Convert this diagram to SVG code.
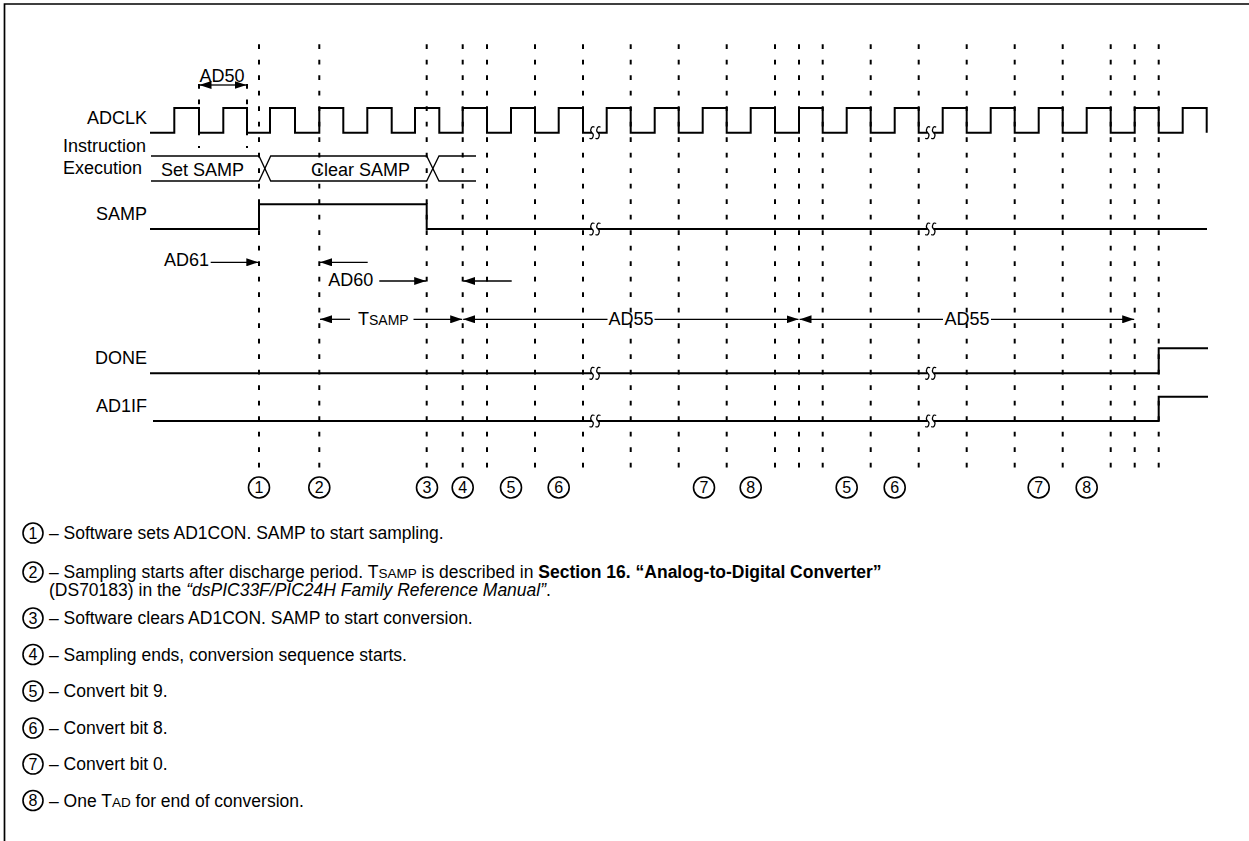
<svg xmlns="http://www.w3.org/2000/svg" width="1249" height="841" viewBox="0 0 1249 841">
<style>
text{font-family:"Liberation Sans",Arial,sans-serif;fill:#000}
.lbl{font-size:18px}
.end{text-anchor:end}
.mid{text-anchor:middle}
.sig{fill:none;stroke:#000;stroke-width:2}
.bus{fill:none;stroke:#000;stroke-width:1.3}
.grid{stroke:#000;stroke-width:2;stroke-dasharray:4.7 10.8}
.arr{stroke:#000;stroke-width:1.3;fill:none;marker-end:url(#ah)}
.brk{fill:none;stroke:#000;stroke-width:1.2}
.cn circle{fill:#fff;stroke:#000;stroke-width:1.6}
.cn text{font-size:16px;text-anchor:middle}
.note{font-size:17.5px}
</style>
<defs>
<marker id="ah" viewBox="0 0 12 8" refX="12" refY="4" markerWidth="12" markerHeight="8" markerUnits="userSpaceOnUse" orient="auto-start-reverse"><path d="M0,0 L12,4 L0,8 z" fill="#000"/></marker>
<g id="brk"><rect x="-3" y="-2.5" width="6" height="5" fill="#fff"/><path class="brk" d="M-0.5,-5.5 Q-3,-7 -4,-4 Q-5,-1.5 -3,0 Q-1,1.5 -2,4 Q-3,7 -5.5,5.5"/><path class="brk" d="M5.5,-5.5 Q3,-7 2,-4 Q1,-1.5 3,0 Q5,1.5 4,4 Q3,7 0.5,5.5"/></g>
</defs>
<g id="frame"><path d="M4.5,841 V4 H1249" fill="none" stroke="#000" stroke-width="1.7"/></g>
<g id="grid">
<line class="grid" x1="259" y1="44.3" x2="259" y2="468"/>
<line class="grid" x1="319.3" y1="44.3" x2="319.3" y2="468"/>
<line class="grid" x1="426.7" y1="44.3" x2="426.7" y2="468"/>
<line class="grid" x1="462.7" y1="44.3" x2="462.7" y2="468"/>
<line class="grid" x1="487" y1="44.3" x2="487" y2="468"/>
<line class="grid" x1="535" y1="44.3" x2="535" y2="468"/>
<line class="grid" x1="583" y1="44.3" x2="583" y2="468"/>
<line class="grid" x1="630.7" y1="44.3" x2="630.7" y2="468"/>
<line class="grid" x1="678.7" y1="44.3" x2="678.7" y2="468"/>
<line class="grid" x1="726.7" y1="44.3" x2="726.7" y2="468"/>
<line class="grid" x1="775" y1="44.3" x2="775" y2="468"/>
<line class="grid" x1="799" y1="44.3" x2="799" y2="468"/>
<line class="grid" x1="822.7" y1="44.3" x2="822.7" y2="468"/>
<line class="grid" x1="870.7" y1="44.3" x2="870.7" y2="468"/>
<line class="grid" x1="918.7" y1="44.3" x2="918.7" y2="468"/>
<line class="grid" x1="966.7" y1="44.3" x2="966.7" y2="468"/>
<line class="grid" x1="1014.7" y1="44.3" x2="1014.7" y2="468"/>
<line class="grid" x1="1062.7" y1="44.3" x2="1062.7" y2="468"/>
<line class="grid" x1="1110.7" y1="44.3" x2="1110.7" y2="468"/>
<line class="grid" x1="1134.7" y1="44.3" x2="1134.7" y2="468"/>
<line class="grid" x1="1158.7" y1="44.3" x2="1158.7" y2="468"/>
<line class="grid" x1="199" y1="84" x2="199" y2="148"/>
<line class="grid" x1="247" y1="84" x2="247" y2="148"/>
</g>
<g id="labels">
<text class="lbl end" x="147" y="124">ADCLK</text>
<text class="lbl" x="63" y="152">Instruction</text>
<text class="lbl" x="63" y="173.5">Execution</text>
<text class="lbl end" x="147" y="220">SAMP</text>
<text class="lbl end" x="147" y="364">DONE</text>
<text class="lbl end" x="147" y="412.3">AD1IF</text>
</g>
<g id="adclk">
<path class="sig" d="M150,132.7 H174.3 V108 H199 V132.7 H223.3 V108 H247 V132.7 H270 V108 H295 V132.7 H319.3 V108 H343.3 V132.7 H367.3 V108 H391.7 V132.7 H415 V108 H439.3 V132.7 H462.7 V108 H487 V132.7 H511 V108 H535 V132.7 H558.7 V108 H583 V132.7 H606.7 V108 H630.7 V132.7 H654.7 V108 H678.7 V132.7 H702.7 V108 H726.7 V132.7 H750.7 V108 H775 V132.7 H799 V108 H822.7 V132.7 H846.7 V108 H870.7 V132.7 H894.7 V108 H918.7 V132.7 H942.7 V108 H966.7 V132.7 H990.7 V108 H1014.7 V132.7 H1038.7 V108 H1062.7 V132.7 H1086.7 V108 H1110.7 V132.7 H1134.7 V108 H1158.7 V132.7 H1182.7 V108 H1206.7 V132.7"/>
<use href="#brk" x="595" y="132.7"/>
<use href="#brk" x="930.7" y="132.7"/>
</g>
<g id="instr">
<path class="bus" d="M151,156 H259 L270.7,181 H426.7 L439,156 H476"/>
<path class="bus" d="M151,181 H259 L270.7,156 H426.7 L439,181 H476"/>
<text class="lbl" x="161" y="175.7">Set SAMP</text>
<text class="lbl" x="311" y="175.7">Clear SAMP</text>
</g>
<g id="samp">
<path class="sig" d="M150,229 H259 V204.3 H426.7 V229 H1207"/>
<use href="#brk" x="595" y="229"/>
<use href="#brk" x="930.7" y="229"/>
</g>
<g id="done">
<path class="sig" d="M150,373.3 H1158.7 V348.3 H1208"/>
<use href="#brk" x="595" y="373.3"/>
<use href="#brk" x="930.7" y="373.3"/>
</g>
<g id="ad1if">
<path class="sig" d="M153,421 H1158.7 V396.7 H1208"/>
<use href="#brk" x="595" y="421"/>
<use href="#brk" x="930.7" y="421"/>
</g>
<g id="connectors">
<line class="arr" x1="223" y1="85" x2="199.5" y2="85"/>
<line class="arr" x1="223" y1="85" x2="246.5" y2="85"/>
<line class="arr" x1="210.7" y1="262.3" x2="258.3" y2="262.3"/>
<line class="arr" x1="367.7" y1="262.3" x2="320" y2="262.3"/>
<line class="arr" x1="379.3" y1="281" x2="426.2" y2="281"/>
<line class="arr" x1="511.7" y1="281" x2="463.2" y2="281"/>
<line class="arr" x1="350" y1="319.3" x2="320" y2="319.3"/>
<line class="arr" x1="413.5" y1="319.3" x2="462.2" y2="319.3"/>
<line class="arr" x1="607.5" y1="319.3" x2="463.2" y2="319.3"/>
<line class="arr" x1="654.5" y1="319.3" x2="798.5" y2="319.3"/>
<line class="arr" x1="943" y1="319.3" x2="799.5" y2="319.3"/>
<line class="arr" x1="991" y1="319.3" x2="1134.2" y2="319.3"/>
</g>
<g id="timing-labels">
<text class="lbl mid" x="222" y="81.7">AD50</text>
<text class="lbl" x="164" y="266">AD61</text>
<text class="lbl" x="328.3" y="286">AD60</text>
<text class="lbl" x="358" y="325">T<tspan font-size="14">SAMP</tspan></text>
<text class="lbl mid" x="631" y="325">AD55</text>
<text class="lbl mid" x="967" y="325">AD55</text>
</g>
<g id="markers" class="cn">
<g id="m1"><circle cx="259" cy="487.5" r="10.5"/><text x="259" y="493.3">1</text></g>
<g id="m2"><circle cx="319.3" cy="487.5" r="10.5"/><text x="319.3" y="493.3">2</text></g>
<g id="m3"><circle cx="427" cy="487.5" r="10.5"/><text x="427" y="493.3">3</text></g>
<g id="m4"><circle cx="462.7" cy="487.5" r="10.5"/><text x="462.7" y="493.3">4</text></g>
<g id="m5a"><circle cx="511" cy="487.5" r="10.5"/><text x="511" y="493.3">5</text></g>
<g id="m6a"><circle cx="558.7" cy="487.5" r="10.5"/><text x="558.7" y="493.3">6</text></g>
<g id="m7a"><circle cx="704" cy="487.5" r="10.5"/><text x="704" y="493.3">7</text></g>
<g id="m8a"><circle cx="750.7" cy="487.5" r="10.5"/><text x="750.7" y="493.3">8</text></g>
<g id="m5b"><circle cx="846.7" cy="487.5" r="10.5"/><text x="846.7" y="493.3">5</text></g>
<g id="m6b"><circle cx="894.7" cy="487.5" r="10.5"/><text x="894.7" y="493.3">6</text></g>
<g id="m7b"><circle cx="1038.7" cy="487.5" r="10.5"/><text x="1038.7" y="493.3">7</text></g>
<g id="m8b"><circle cx="1086.7" cy="487.5" r="10.5"/><text x="1086.7" y="493.3">8</text></g>
</g>
<g id="notes">
<g class="cn">
<circle cx="33" cy="533" r="10"/><text x="33" y="538.6">1</text>
<circle cx="33" cy="572" r="10"/><text x="33" y="577.6">2</text>
<circle cx="33" cy="618" r="10"/><text x="33" y="623.6">3</text>
<circle cx="33" cy="654.5" r="10"/><text x="33" y="660.1">4</text>
<circle cx="33" cy="691" r="10"/><text x="33" y="696.6">5</text>
<circle cx="33" cy="728" r="10"/><text x="33" y="733.6">6</text>
<circle cx="33" cy="764" r="10"/><text x="33" y="769.6">7</text>
<circle cx="33" cy="800.5" r="10"/><text x="33" y="806.1">8</text>
</g>
<text class="note" x="49" y="539.3">– Software sets AD1CON. SAMP to start sampling.</text>
<text class="note" x="49" y="578.3">– Sampling starts after discharge period. T<tspan font-size="13.5">SAMP</tspan> is described in <tspan font-weight="bold">Section 16. “Analog-to-Digital Converter”</tspan></text>
<text class="note" x="49" y="595.5">(DS70183) in the <tspan font-style="italic">“dsPIC33F/PIC24H Family Reference Manual”</tspan>.</text>
<text class="note" x="49" y="624.3">– Software clears AD1CON. SAMP to start conversion.</text>
<text class="note" x="49" y="660.8">– Sampling ends, conversion sequence starts.</text>
<text class="note" x="49" y="697.3">– Convert bit 9.</text>
<text class="note" x="49" y="734.3">– Convert bit 8.</text>
<text class="note" x="49" y="770.3">– Convert bit 0.</text>
<text class="note" x="49" y="806.8">– One T<tspan font-size="13.5">AD</tspan> for end of conversion.</text>
</g>
</svg>
